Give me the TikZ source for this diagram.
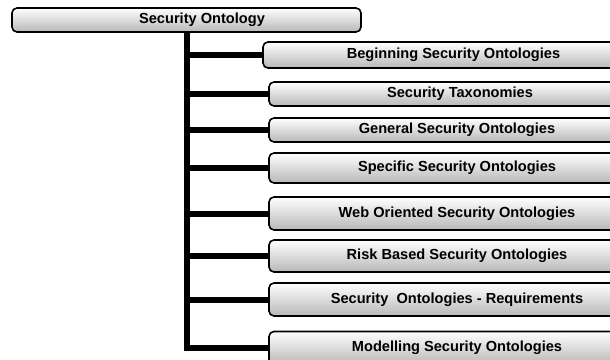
\documentclass[tikz,border=0pt]{standalone}
\usepackage{fontspec}
\setmainfont{Liberation Sans}
\usetikzlibrary{calc}

\tikzset{
  onto/.style={draw=black, line width=1.6pt, rounded corners=5pt,
    top color=white, bottom color=black!28, inner sep=0pt,
    font=\fontsize{14.6}{17}\selectfont\bfseries},
  branch/.style={line width=6pt}
}

\begin{document}
\begin{tikzpicture}[x=1pt, y=-1pt]
    \clip (0,0) rectangle (610,359);

    % root
    \node[onto, minimum width=349pt, minimum height=24pt] (root) at (186.5,20) {\hspace*{31pt}Security Ontology};

    % sub categories
    \node[onto, minimum width=381pt, minimum height=26pt] (begin) at (453.5,55) {Beginning Security Ontologies};
    \node[onto, minimum width=376pt, minimum height=24pt] (taxo) at (457,94) {\hspace*{6pt}Security Taxonomies};
    \node[onto, minimum width=376pt, minimum height=24pt] (general) at (457,130) {General Security Ontologies};
    \node[onto, minimum width=376pt, minimum height=30pt] (specific) at (457,168) {Specific Security Ontologies};
    \node[onto, minimum width=376pt, minimum height=33pt] (web) at (457,213.5) {Web Oriented Security Ontologies};
    \node[onto, minimum width=376pt, minimum height=32pt] (risk) at (457,256) {Risk Based Security Ontologies};
    \node[onto, minimum width=376pt, minimum height=33pt] (req) at (457,299.5) {Security\ \ Ontologies - Requirements};
    \node[onto, minimum width=376pt, minimum height=33pt] (model) at (457,348) {Modelling Security Ontologies};

    % trunk and branches
    \coordinate (trunk) at (186.5,0);
    \draw[branch] (trunk |- root.south) -- (trunk |- model.west) -- (model.west);
    \foreach \n in {begin,taxo,general,specific,web,risk,req}
        \draw[branch] (trunk |- \n.west) -- (\n.west);
\end{tikzpicture}
\end{document}
